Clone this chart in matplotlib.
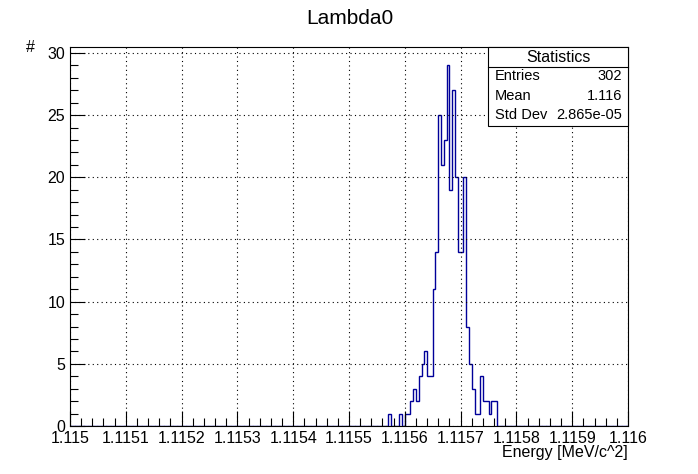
import matplotlib
matplotlib.use("Agg")
import matplotlib.pyplot as plt
import numpy as np
from matplotlib.ticker import MultipleLocator

plt.rcParams['font.family'] = ['Liberation Sans', 'DejaVu Sans']

xmin, xmax, nbins = 1.115, 1.116, 200
first_bin = 114  # index of first listed bin
counts = [1, 0, 0, 0, 1, 0, 1, 1, 2, 3, 2, 4, 5, 6, 4, 4, 11, 14, 25, 21, 23, 29,
          19, 27, 20, 14, 14, 20, 8, 5, 3, 1, 1, 4, 2, 2, 1, 2, 2]
xticks = [1.115 + i * 0.0001 for i in range(11)]
xtick_labels = ["1.115", "1.1151", "1.1152", "1.1153", "1.1154", "1.1155",
                "1.1156", "1.1157", "1.1158", "1.1159", "1.116"]
stats = [("Entries", "302"), ("Mean", "1.116"), ("Std Dev", "2.865e-05")]

h = np.zeros(nbins)
h[first_bin:first_bin + len(counts)] = counts
edges = np.linspace(xmin, xmax, nbins + 1)

W, H = 698, 474
fig = plt.figure(figsize=(W / 100, H / 100), dpi=100)
ax = fig.add_axes([70 / W, 1 - 426 / H, 558 / W, 379 / H])
ax.stairs(h, edges, color='#000099', lw=1.0)
ax.set_xlim(xmin, xmax)
ax.set_ylim(0, 30.48)
ax.set_xticks(xticks)
ax.set_xticklabels(xtick_labels)
ax.xaxis.set_minor_locator(MultipleLocator(0.00002))
ax.yaxis.set_major_locator(MultipleLocator(5))
ax.yaxis.set_minor_locator(MultipleLocator(1))
ax.tick_params(direction='in', which='major', length=11, labelsize=11.5, width=0.8)
ax.tick_params(direction='in', which='minor', length=6, width=0.8)
ax.grid(True, which='major', linestyle=(0, (1, 3)), color='black', lw=0.8)
for s in ax.spines.values():
    s.set_linewidth(0.8)

fig.text(350 / W, 1 - 18 / H, "Lambda0", ha='center', va='center', fontsize=15)
fig.text(30 / W, 1 - 47 / H, "#", ha='center', va='center', fontsize=11.5)
fig.text(628 / W, 1 - 452 / H, "Energy [MeV/c^2]", ha='right', va='center', fontsize=11.5)

# stats box
bx0, bx1, by0, by1 = 488, 628, 47, 126
box = plt.Rectangle((bx0 / W, 1 - by1 / H), (bx1 - bx0) / W, (by1 - by0) / H,
                    transform=fig.transFigure, fill=True, fc='white', ec='black', lw=0.8)
fig.add_artist(box)
fig.add_artist(plt.Line2D([bx0 / W, bx1 / W], [1 - 67 / H, 1 - 67 / H],
                          transform=fig.transFigure, color='black', lw=0.8))
fig.text((bx0 + bx1) / 2 / W, 1 - 57 / H, "Statistics", ha='center', va='center', fontsize=11.5)
for i, (k, v) in enumerate(stats):
    y = 1 - (76 + i * 19.5) / H
    fig.text(495 / W, y, k, ha='left', va='center', fontsize=10.5)
    fig.text(622 / W, y, v, ha='right', va='center', fontsize=10.5)

fig.savefig("out.png", dpi=100)
